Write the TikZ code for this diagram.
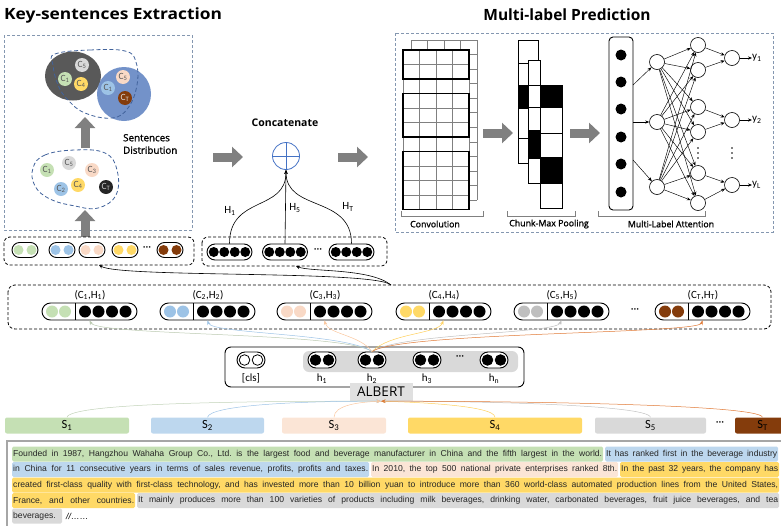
\documentclass[tikz,border=0pt]{standalone}
\usepackage{fontspec}
\setmainfont{Open Sans}
\newfontfamily\semib{Open Sans}[FakeBold=1.2]
\newfontfamily\arialf{Liberation Sans}
\newfontfamily\calf{Carlito}
\usetikzlibrary{arrows.meta,calc}
\frenchspacing
\definecolor{cgreen}{HTML}{C5E0B4}
\definecolor{cblue}{HTML}{BDD7EE}
\definecolor{cbluedot}{HTML}{9DC3E6}
\definecolor{cpeach}{HTML}{FBE5D6}
\definecolor{cpeachdot}{HTML}{F9D9C6}
\definecolor{cyellow}{HTML}{FFD966}
\definecolor{cgray}{HTML}{D9D9D9}
\definecolor{cgraydot}{HTML}{BFBFBF}
\definecolor{cbrown}{HTML}{843C0C}
\definecolor{corange}{HTML}{E07A36}
\definecolor{cdark}{HTML}{595959}
\definecolor{cbigblue}{HTML}{7392C9}
\definecolor{blobline}{HTML}{41629B}
\definecolor{arrowgray}{HTML}{808080}
\definecolor{frameblue}{HTML}{8497B0}
\definecolor{plusblue}{HTML}{4472C4}
\definecolor{txtgray}{HTML}{262626}
\tikzset{
  frame/.style={draw=frameblue, line width=0.9pt, dash pattern=on 3pt off 2pt},
  dbox/.style={draw=black, line width=0.8pt, dash pattern=on 3pt off 2pt, rounded corners=6pt},
  blob/.style={draw=blobline, line width=0.8pt, dash pattern=on 4pt off 2.5pt},
  blockarrow/.style={draw=arrowgray, line width=9pt, -{Triangle[length=11pt,width=20pt]}},
  pill/.style={draw, line width=0.9pt, inner sep=0pt, fill=white},
  thinarrow/.style={-{Stealth[length=4pt,width=3.2pt]}, line width=0.45pt},
  flow/.style={-{Stealth[length=4.5pt,width=3.5pt]}, line width=0.5pt, draw=#1},
  ccirc/.style={circle, inner sep=0pt, minimum size=14pt, font=\calf\fontsize{9.5}{10}\selectfont},
  lab/.style={font=\calf\fontsize{11}{12}\selectfont, inner sep=0pt},
  captxt/.style={font=\semib\fontsize{8.8}{10}\selectfont, inner sep=0pt},
  bracket/.style={draw=arrowgray, line width=0.6pt},
  nn/.style={circle, draw, line width=0.6pt, minimum size=15pt, inner sep=0pt, fill=white},
  gridline/.style={draw=black!50, line width=0.5pt},
  seg/.style={anchor=west, inner xsep=1pt, inner ysep=0pt, minimum height=15pt, rounded corners=1.5pt, text=txtgray, font=\arialf\fontsize{8.6}{10}\selectfont},
  sbar/.style={minimum height=16pt, rounded corners=2pt, inner sep=0pt, font=\calf\fontsize{12.5}{13}\selectfont}
}
% pill with two coloured dots
\newcommand\twopill[3]{%
  \node[pill, minimum width=26pt, minimum height=15pt, rounded corners=7.5pt] (#1) at (#2,250) {};
  \fill[#3] (#2-6.5,250) circle[radius=5pt] (#2+6.5,250) circle[radius=5pt];
}
% pill with four black dots
\newcommand\fourpill[2]{%
  \node[pill, minimum width=45pt, minimum height=16pt, rounded corners=8pt] (#1) at (#2,252) {};
  \foreach \k in {-15.75,-5.25,5.25,15.75} \fill (#2+\k,252) circle[radius=5pt];
}
% (C,H) pair: two coloured dots, divider, four black dots
\newcommand\pairpill[4]{%
  \node[pill, minimum width=95pt, minimum height=17pt, rounded corners=8.5pt] (#1) at (#2+47.5,311.5) {};
  \fill[#3] (#2+10,311.5) circle[radius=6pt] (#2+23,311.5) circle[radius=6pt];
  \draw[line width=0.9pt] (#2+33,303) -- (#2+33,320);
  \foreach \k in {43,56.5,70,83.5} \fill (#2+\k,311.5) circle[radius=6pt];
  \node[lab] at (#2+48,295) {#4};
}
% token pill of the encoder
\newcommand\hpill[4]{%
  \node[pill, minimum width=28pt, minimum height=16pt, rounded corners=8pt] (#1) at (#2,360) {};
  \draw[fill=#3, line width=0.8pt] (#2-6.5,360) circle[radius=5.3pt] (#2+6.5,360) circle[radius=5.3pt];
  \node[lab] at (#2,378.5) {#4};
}
% three small dots in a column
\newcommand\vdotsat[2]{%
  \fill (#1,#2-5) circle[radius=0.8pt] (#1,#2) circle[radius=0.8pt] (#1,#2+5) circle[radius=0.8pt];
}
\begin{document}
\begin{tikzpicture}[x=1pt,y=-1pt]
\useasboundingbox (0,0) rectangle (781,525);

% ---------- titles ----------
\node[font=\bfseries\fontsize{15.5}{17}\selectfont, anchor=west, inner sep=0pt] (t1) at (4,15) {\scalebox{1.12}[1]{Key-sentences Extraction}};
\node[font=\bfseries\fontsize{15.5}{17}\selectfont, inner sep=0pt] (t2) at (567,15) {Multi-label Prediction};

% ---------- key-sentence extraction ----------
\draw[frame] (4,35) rectangle (192,230);
\fill[cdark] (73,76) ellipse[x radius=28pt, y radius=24.5pt];
\fill[cbigblue] (124,94) circle[radius=27pt];
\node[ccirc, fill=cgray, text=cdark] (u5) at (82,65) {C\textsubscript{5}};
\node[ccirc, fill=cgreen, text=cdark] (u1) at (65,79) {C\textsubscript{1}};
\node[ccirc, fill=cyellow, text=cdark] (u4) at (81,84) {C\textsubscript{4}};
\node[ccirc, fill=cpeachdot, text=cdark] (v5) at (123,77) {C\textsubscript{5}};
\node[ccirc, fill=cbluedot, text=cdark] (v1) at (108,88) {C\textsubscript{1}};
\node[ccirc, fill=cbrown, text=white!85!black] (vt) at (125,98) {C\textsubscript{T}};
\draw[blob] plot[smooth cycle, tension=0.7] coordinates {(55,54) (90,50) (125,51) (136,62) (137,85) (128,108) (112,118) (85,113) (68,100) (58,85) (53,65)};

\draw[blockarrow] (85,148) -- (85,117);
\node[font=\semib\fontsize{9.8}{12.5}\selectfont, align=left, anchor=west, inner sep=0pt] (sd) at (123,144) {Sentences\\Distribution};

\draw[blob] plot[smooth cycle, tension=0.7] coordinates {(33,168) (45,155) (75,150) (105,153) (117,170) (116,195) (98,208) (75,206) (50,199) (35,186)};
\node[ccirc, fill=cgreen, text=cdark] (w1) at (47,170) {C\textsubscript{1}};
\node[ccirc, fill=cgray, text=cdark] (w5) at (69,163) {C\textsubscript{5}};
\node[ccirc, fill=cpeachdot, text=cdark] (w3) at (92,170) {C\textsubscript{3}};
\node[ccirc, fill=cbluedot, text=cdark] (w2) at (61,189) {C\textsubscript{2}};
\node[ccirc, fill=cyellow, text=cdark] (w4) at (78,185) {C\textsubscript{4}};
\node[ccirc, fill=black!85, text=white!80!black] (wt) at (106,187) {C\textsubscript{T}};

\draw[blockarrow] (85,237) -- (85,210);

% pairs of colour features
\draw[dbox] (4,237) rectangle (194,265);
\coordinate (pbox) at (99,265);
\twopill{q1}{25}{cgreen}
\twopill{q2}{62}{cbluedot}
\twopill{q3}{92}{cpeachdot}
\twopill{q4}{125}{cyellow}
\node[lab] at (147,249) {···};
\twopill{qt}{170}{cbrown}

% ---------- concatenation ----------
\node[font=\bfseries\fontsize{10.5}{12}\selectfont, inner sep=0pt] (cc) at (285,123) {Concatenate};
\node[circle, draw=plusblue, line width=0.8pt, minimum size=27pt, inner sep=0pt] (oplus) at (286,156) {};
\draw[plusblue, line width=0.8pt] (oplus.north) -- (oplus.south) (oplus.west) -- (oplus.east);
\draw[blockarrow] (213,157) -- (243,157);
\draw[blockarrow] (338,157) -- (368,157);

\draw[dbox] (202,237) rectangle (387,266);
\coordinate (cbox) at (296,266);
\fourpill{cp1}{229.5}
\fourpill{cp2}{285}
\node[lab] at (318,251) {···};
\fourpill{cp3}{351.5}
\draw[thinarrow, line width=0.6pt] (cp1.north) .. controls (229.5,195) and (286,212) .. (oplus.south);
\draw[thinarrow, line width=0.6pt] (cp2.north) -- (oplus.south);
\draw[thinarrow, line width=0.6pt] (cp3.north) .. controls (351.5,195) and (286,212) .. (oplus.south);
\node[lab] at (230,211) {H\textsubscript{1}};
\node[lab] at (295,208) {H\textsubscript{5}};
\node[lab] at (348,207) {H\textsubscript{T}};

% ---------- multi-label prediction ----------
\draw[frame] (395,33) rectangle (773,232);

% convolution maps
\fill[white] (411,40) rectangle (477,200);
\foreach \i in {0,...,4} \draw[gridline] (411+16.5*\i,40) -- (411+16.5*\i,200);
\foreach \j in {0,...,11} \draw[gridline] (411,40+14.545*\j) -- (477,40+14.545*\j);
\fill[white] (403,50) rectangle (469,209.5);
\foreach \i in {0,...,4} \draw[gridline] (403+16.5*\i,50) -- (403+16.5*\i,209.5);
\foreach \j in {0,...,11} \draw[gridline] (403,50+14.5*\j) -- (469,50+14.5*\j);
\draw[line width=1.1pt] (403,50) rectangle (469,79);
\draw[line width=1.1pt] (403,93.5) rectangle (469,137);
\draw[line width=1.1pt] (403,151.5) rectangle (469,209.5);
\draw[bracket] (401,211) -- (401,216) -- (483,216) -- (483,211);
\node[captxt] (lconv) at (435,224) {Convolution};

\draw[blockarrow] (483,133) -- (513,133);

% chunk-max pooling columns
\foreach \a/\b/\f in {40/63/white,63/85/white,85/108/black,108/138/white,138/163/white}
  \draw[fill=\f, line width=0.9pt] (518,\a) rectangle (538,\b);
\foreach \a/\b/\f in {60/85/white,85/107/white,107/130/white,130/158/black,158/183/white}
  \draw[fill=\f, line width=0.9pt] (528,\a) rectangle (540,\b);
\foreach \a/\b/\f in {85/107/black,107/133/white,133/157/white,157/183/black,183/208/white}
  \draw[fill=\f, line width=0.9pt] (540,\a) rectangle (562,\b);
\draw[bracket] (507,211) -- (507,216) -- (575,216) -- (575,211);
\node[captxt] (lpool) at (549,224) {Chunk-Max Pooling};

\draw[blockarrow] (570,133) -- (600,133);

% attention network
\node[draw, line width=0.9pt, rounded corners=4pt, minimum width=24pt, minimum height=173pt, inner sep=0pt] (att) at (621,123.5) {};
\foreach \yy in {55,82,109,137,164,192} \fill (621,\yy) circle[radius=5.5pt];
\node[nn] (l1a) at (657,62) {};
\node[nn] (l1b) at (657,122) {};
\node[nn] (l1c) at (657,187) {};
\node[nn] (l2a) at (698,45) {};
\node[nn] (l2b) at (698,70) {};
\node[nn] (l2c) at (698,107) {};
\node[nn] (l2d) at (698,132) {};
\node[nn] (l2e) at (698,173) {};
\node[nn] (l2f) at (698,203) {};
\node[nn] (l3a) at (732,58) {};
\node[nn] (l3b) at (732,120) {};
\node[nn] (l3c) at (732,185) {};
\coordinate (o1) at (633,85);
\coordinate (o2) at (633,122);
\coordinate (o3) at (633,160);
\draw[thinarrow] (o1) -- (l1a);
\draw[thinarrow] (o2) -- (l1b);
\draw[thinarrow] (o3) -- (l1c);
\foreach \s in {l1a,l1b,l1c}
  \foreach \t in {l2a,l2b,l2c,l2d,l2e,l2f}
    \draw[thinarrow] (\s) -- (\t);
\draw[thinarrow] (l2a) -- (l3a);
\draw[thinarrow] (l2b) -- (l3a);
\draw[thinarrow] (l2c) -- (l3b);
\draw[thinarrow] (l2d) -- (l3b);
\draw[thinarrow] (l2e) -- (l3c);
\draw[thinarrow] (l2f) -- (l3c);
\vdotsat{698}{153}
\vdotsat{732}{153}
\node[lab, anchor=west] (y1) at (752,58) {y\textsubscript{1}};
\node[lab, anchor=west] (y2) at (752,120) {y\textsubscript{2}};
\node[lab, anchor=west] (yl) at (752,185) {y\textsubscript{L}};
\draw[thinarrow, line width=0.7pt] (l3a) -- (y1);
\draw[thinarrow, line width=0.7pt] (l3b) -- (y2);
\draw[thinarrow, line width=0.7pt] (l3c) -- (yl);
\draw[bracket] (598,211) -- (598,216) -- (705,216) -- (705,211);
\node[captxt] (latt) at (671,224) {Multi-Label Attention};

% ---------- (C,H) pairs ----------
\draw[dbox, rounded corners=7pt] (8,285) rectangle (771,329);
\coordinate (msrc) at (391,285);
\pairpill{p1}{42}{cgreen}{(C\textsubscript{1},H\textsubscript{1})}
\pairpill{p2}{160}{cbluedot}{(C\textsubscript{2},H\textsubscript{2})}
\pairpill{p3}{277}{cpeachdot}{(C\textsubscript{3},H\textsubscript{3})}
\pairpill{p4}{396}{cyellow}{(C\textsubscript{4},H\textsubscript{4})}
\pairpill{p5}{514}{cgraydot}{(C\textsubscript{5},H\textsubscript{5})}
\node[lab] at (635,311) {···};
\pairpill{pt}{655}{cbrown}{(C\textsubscript{T},H\textsubscript{T})}

\draw[thinarrow, line width=0.6pt] (msrc) .. controls (370,268) and (310,272) .. (cbox);
\draw[thinarrow, line width=0.6pt] (msrc) .. controls (375,270) and (120,278) .. (pbox);

% ---------- encoder ----------
\node[draw, line width=0.9pt, rounded corners=6pt, minimum width=299pt, minimum height=40pt, inner sep=0pt] (enc) at (374.5,367) {};
\fill[cgray, rounded corners=6pt] (303,351) rectangle (518,372);
\hpill{cls}{251}{white}{[cls]}
\hpill{h1}{322}{black}{h\textsubscript{1}}
\hpill{h2}{372}{black}{h\textsubscript{2}}
\hpill{h3}{427}{black}{h\textsubscript{3}}
\node[lab] at (460,358) {···};
\hpill{hn}{494}{black}{h\textsubscript{n}}
\node[fill=black!12, minimum width=63pt, minimum height=18pt, inner sep=0pt, font=\fontsize{13.5}{14}\selectfont] (albert) at (381,392) {ALBERT};

\draw[flow=cgreen!80!black!70] (h2.north) .. controls (345,332) and (98,336) .. (p1.south);
\draw[flow=cbluedot] (h2.north) .. controls (345,333) and (212,334) .. (p2.south);
\draw[flow=cpeachdot!80!orange] (h2.north) .. controls (360,335) and (328,334) .. (p3.south);
\draw[flow=cyellow!90!orange] (h2.north) .. controls (390,333) and (438,334) .. (p4.south);
\draw[flow=cgraydot] (h2.north) .. controls (400,333) and (555,334) .. (p5.south);
\draw[flow=corange] (h2.north) .. controls (400,332) and (698,334) .. (pt.south);

% ---------- sentences ----------
\node[sbar, fill=cgreen, minimum width=124pt] (s1) at (67,425.5) {S\textsubscript{1}};
\node[sbar, fill=cblue, minimum width=113pt] (s2) at (207.5,425.5) {S\textsubscript{2}};
\node[sbar, fill=cpeach, minimum width=104pt] (s3) at (334,425.5) {S\textsubscript{3}};
\node[sbar, fill=cyellow, minimum width=174pt] (s4) at (495,425.5) {S\textsubscript{4}};
\node[sbar, fill=cgray, minimum width=111pt] (s5) at (650.5,425.5) {S\textsubscript{5}};
\node[lab] at (720,424) {···};
\node[sbar, fill=cbrown, minimum width=55pt] (st) at (762.5,425.5) {S\textsubscript{T}};

\draw[flow=cgreen!85!black!70] (s1.north) .. controls (70,404) and (220,401) .. (albert.south);
\draw[flow=cbluedot] (s2.north) .. controls (210,405) and (300,401) .. (albert.south);
\draw[flow=cpeachdot!80!orange] (s3.north) .. controls (334,405) and (360,402) .. (albert.south);
\draw[flow=cyellow!90!orange] (s4.north) .. controls (495,405) and (410,402) .. (albert.south);
\draw[flow=cgray!90!black] (s5.north) .. controls (648,404) and (460,401) .. (albert.south);
\draw[flow=corange] (st.north) .. controls (760,404) and (500,401) .. (albert.south);

% ---------- document text ----------
\draw[draw=black!35, line width=1.2pt] (7,441) rectangle (790,530);
\node[seg, fill=cgreen] at (12,454) {\hbox to 589pt{Founded in 1987, Hangzhou Wahaha Group Co., Ltd. is the largest food and beverage manufacturer in China and the fifth largest in the world.}};
\node[seg, fill=cblue] at (605,454) {\hbox to 171pt{It has ranked first in the beverage industry}};
\node[seg, fill=cblue] at (12,469.5) {\hbox to 355pt{in China for 11 consecutive years in terms of sales revenue, profits, profits and taxes.}};
\node[seg, fill=cpeach] at (371,469.5) {\hbox to 245pt{In 2010, the top 500 national private enterprises ranked 8th.}};
\node[seg, fill=cyellow] at (620,469.5) {\hbox to 157pt{In the past 32 years, the company has}};
\node[seg, fill=cyellow] at (12,485) {\hbox to 765pt{created first-class quality with first-class technology, and has invested more than 10 billion yuan to introduce more than 360 world-class automated production lines from the United States,}};
\node[seg, fill=cyellow] at (12,500.5) {\hbox to 121pt{France, and other countries.}};
\node[seg, fill=cgray] at (137,500.5) {\hbox to 640pt{It mainly produces more than 100 varieties of products including milk beverages, drinking water, carbonated beverages, fruit juice beverages, and tea}};
\node[seg, fill=cgray] at (12,516) {\hbox to 48pt{beverages.}};
\node[seg, anchor=west, text=black] at (65,516) {{\itshape //}……};
\end{tikzpicture}
\end{document}
